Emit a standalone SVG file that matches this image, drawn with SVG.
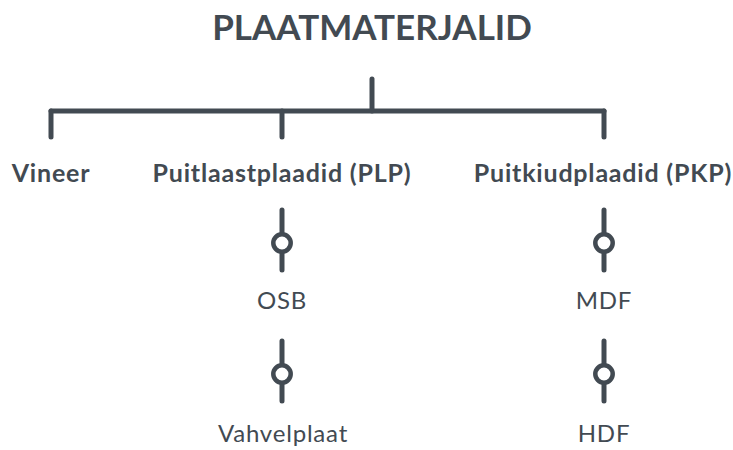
<svg xmlns="http://www.w3.org/2000/svg" width="733" height="450" viewBox="0 0 733 450">
<style>
.ln{stroke:#424a52;stroke-width:5;stroke-linecap:round;fill:none}
.ring{stroke:#424a52;stroke-width:4.5;fill:#fff}
.t{font-family:Lato,"Open Sans",sans-serif;fill:#424a52;text-anchor:middle}
.h{font-size:35px;font-weight:700}
.b{font-size:25px;font-weight:700;letter-spacing:0.8px}
.r{font-size:24px;font-weight:400;letter-spacing:0.8px}
</style>
<defs>
<g id="knob">
<line class="ln" x1="0" y1="-33" x2="0" y2="27"/>
<circle class="ring" cx="0" cy="0" r="8.7"/>
</g>
</defs>
<g id="title"><text class="t h" x="372" y="40">PLAATMATERJALID</text></g>
<g id="connectors">
<line class="ln" x1="372" y1="79" x2="372" y2="111"/>
<line class="ln" x1="51" y1="111" x2="604" y2="111"/>
<line class="ln" x1="51" y1="111" x2="51" y2="137"/>
<line class="ln" x1="282" y1="111" x2="282" y2="137"/>
<line class="ln" x1="604" y1="111" x2="604" y2="137"/>
<use href="#knob" x="282" y="243"/>
<use href="#knob" x="282" y="374"/>
<use href="#knob" x="604" y="243"/>
<use href="#knob" x="604" y="374"/>
</g>
<g id="vineer"><text class="t b" x="51" y="182">Vineer</text></g>
<g id="plp"><text class="t b" x="282" y="182">Puitlaastplaadid (PLP)</text></g>
<g id="pkp"><text class="t b" x="603" y="182">Puitkiudplaadid (PKP)</text></g>
<g id="osb"><text class="t r" x="282" y="309">OSB</text></g>
<g id="vahvelplaat"><text class="t r" x="283" y="442">Vahvelplaat</text></g>
<g id="mdf"><text class="t r" x="604" y="309">MDF</text></g>
<g id="hdf"><text class="t r" x="604" y="442">HDF</text></g>
</svg>
